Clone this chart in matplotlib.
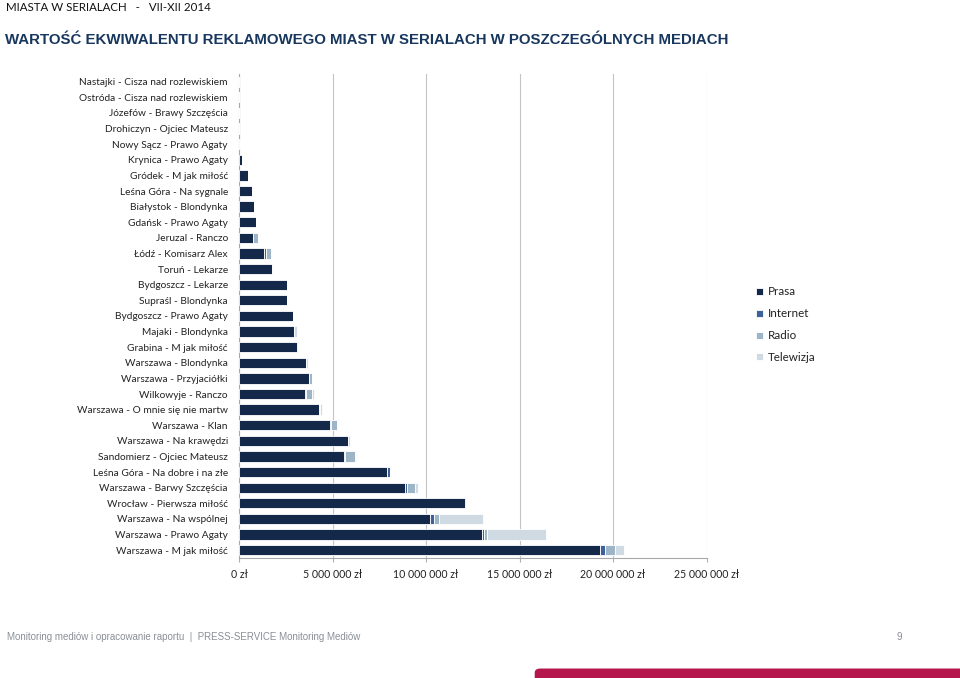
import matplotlib
matplotlib.use("Agg")
import matplotlib.pyplot as plt
import matplotlib.ticker as mticker
from matplotlib.patches import FancyBboxPatch
import numpy as np

# ----------------------------------------------------------------------
# Dane: ekwiwalent reklamowy (zł) wg mediów, od góry wykresu
# ----------------------------------------------------------------------
miejsca = [
    "Nastajki - Cisza nad rozlewiskiem",
    "Ostróda - Cisza nad rozlewiskiem",
    "Józefów - Brawy Szczęścia",
    "Drohiczyn - Ojciec Mateusz",
    "Nowy Sącz - Prawo Agaty",
    "Krynica - Prawo Agaty",
    "Gródek - M jak miłość",
    "Leśna Góra - Na sygnale",
    "Białystok - Blondynka",
    "Gdańsk - Prawo Agaty",
    "Jeruzal - Ranczo",
    "Łódź - Komisarz Alex",
    "Toruń - Lekarze",
    "Bydgoszcz - Lekarze",
    "Supraśl - Blondynka",
    "Bydgoszcz - Prawo Agaty",
    "Majaki - Blondynka",
    "Grabina - M jak miłość",
    "Warszawa - Blondynka",
    "Warszawa - Przyjaciółki",
    "Wilkowyje - Ranczo",
    "Warszawa - O mnie się nie martw",
    "Warszawa - Klan",
    "Warszawa - Na krawędzi",
    "Sandomierz - Ojciec Mateusz",
    "Leśna Góra - Na dobre i na złe",
    "Warszawa - Barwy Szczęścia",
    "Wrocław - Pierwsza miłość",
    "Warszawa - Na wspólnej",
    "Warszawa - Prawo Agaty",
    "Warszawa - M jak miłość",
]

# wartości w mln zł
prasa = [0.0, 0.0, 0.0, 0.0, 0.0, 0.18, 0.50, 0.71, 0.80, 0.93,
         0.72, 1.36, 1.75, 2.59, 2.57, 2.87, 2.96, 3.08, 3.60, 3.74,
         3.53, 4.28, 4.88, 5.83, 5.63, 7.90, 8.89, 12.07, 10.21, 12.98, 19.30]
internet = [0.0, 0.0, 0.0, 0.0, 0.0, 0.0, 0.0, 0.0, 0.0, 0.0,
            0.04, 0.06, 0.0, 0.0, 0.0, 0.0, 0.0, 0.09, 0.0, 0.0,
            0.04, 0.0, 0.05, 0.0, 0.05, 0.18, 0.08, 0.06, 0.20, 0.10, 0.29]
radio = [0.0, 0.0, 0.0, 0.0, 0.03, 0.0, 0.0, 0.0, 0.0, 0.0,
         0.28, 0.30, 0.0, 0.0, 0.0, 0.0, 0.0, 0.0, 0.0, 0.15,
         0.35, 0.06, 0.30, 0.0, 0.50, 0.0, 0.45, 0.0, 0.27, 0.20, 0.53]
telewizja = [0.0, 0.0, 0.0, 0.0, 0.02, 0.0, 0.0, 0.0, 0.0, 0.0,
             0.0, 0.0, 0.08, 0.0, 0.0, 0.0, 0.15, 0.0, 0.07, 0.0,
             0.10, 0.08, 0.0, 0.10, 0.05, 0.0, 0.15, 0.0, 2.39, 3.12, 0.46]

media = ["Prasa", "Internet", "Radio", "Telewizja"]
kolory = ["#14284a", "#3c6299", "#9db5c7", "#cfdae3"]

# ----------------------------------------------------------------------
# Wykres
# ----------------------------------------------------------------------
plt.rcParams["font.family"] = ["Lato", "DejaVu Sans"]
waska = ["Liberation Sans", "DejaVu Sans"]

fig = plt.figure(figsize=(9.6, 6.78), dpi=100)
ax = fig.add_axes([0.249, 0.177, 0.487, 0.714])

y = np.arange(len(miejsca))
lewo = np.zeros(len(miejsca))
for nazwa, wart, kol in zip(media, [prasa, internet, radio, telewizja], kolory):
    w = np.array(wart) * 1e6
    ax.barh(y, w, left=lewo, height=0.66, color=kol, edgecolor="white",
            linewidth=0.6, label=nazwa, zorder=3)
    lewo += w

ax.set_ylim(len(miejsca) - 0.5, -0.5)
ax.set_xlim(0, 25e6)
ax.set_yticks(y)
ax.set_yticklabels(miejsca, fontsize=7.3, color="#222222")
ax.set_xticks(np.arange(0, 25e6 + 1, 5e6))
ax.xaxis.set_major_formatter(
    mticker.FuncFormatter(lambda v, p: f"{int(v):,} zł".replace(",", " ")))
ax.tick_params(axis="x", labelsize=7.6, colors="#222222", length=3,
               color="#b0b0b0", pad=5)
ax.tick_params(axis="y", length=0, pad=8)
ax.grid(axis="x", color="#c4c4c4", linewidth=0.8, zorder=0)
for s in ["top", "right"]:
    ax.spines[s].set_visible(False)
for s in ["left", "bottom"]:
    ax.spines[s].set_color("#a8a8a8")
    ax.spines[s].set_linewidth(0.8)

# legenda
leg = fig.legend(loc="upper left", bbox_to_anchor=(0.777, 0.593), frameon=False,
                 fontsize=8.4, handlelength=0.55, handleheight=0.55,
                 handletextpad=0.45, labelspacing=0.93)
for t in leg.get_texts():
    t.set_color("#222222")

# nagłówki
fig.text(0.006, 0.997, "MIASTA W SERIALACH   -   VII-XII 2014", fontsize=8.3,
         va="top", ha="left", color="#111111")
fig.text(0.005, 0.941,
         "WARTOŚĆ EKWIWALENTU REKLAMOWEGO MIAST W SERIALACH W POSZCZEGÓLNYCH MEDIACH",
         fontsize=10.8, fontweight="bold", va="center", ha="left", color="#17375e",
         family=waska)

# stopka
fig.text(0.007, 0.06,
         "Monitoring mediów i opracowanie raportu  |  PRESS-SERVICE Monitoring Mediów",
         fontsize=7.0, va="center", ha="left", color="#8a8f96", family=waska)
fig.text(0.937, 0.06, "9", fontsize=7.0, va="center", ha="center", color="#8a8f96",
         family=waska)
fig.patches.append(FancyBboxPatch((0.557, -0.02), 0.5, 0.034,
                                  boxstyle="round,pad=0,rounding_size=0.006",
                                  transform=fig.transFigure, facecolor="#b5164b",
                                  edgecolor="none", figure=fig))

fig.savefig("out.png", dpi=100)
